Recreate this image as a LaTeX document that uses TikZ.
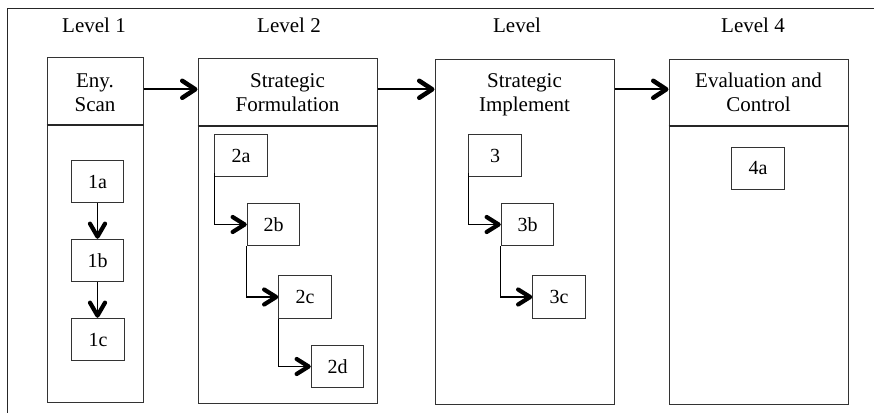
\documentclass[tikz,border=0pt]{standalone}
\usepackage{fontspec}
\setmainfont{Liberation Serif}
\usetikzlibrary{arrows.meta}
\begin{document}
\begin{tikzpicture}[x=1pt,y=-1pt,
  every node/.style={font=\fontsize{21}{24.5}\selectfont},
  big/.style={draw=black!80, line width=1pt, minimum height=345pt, inner sep=0pt},
  sbox/.style={draw=black!80, line width=1pt, minimum width=52.5pt, minimum height=42.5pt, inner sep=0pt, font=\fontsize{20}{24}\selectfont},
  head/.style={align=center, inner sep=0pt},
  divider/.style={draw=black!85, line width=1.1pt},
  mainarrow/.style={line width=2pt, -{Straight Barb[length=13pt,width=17pt,line width=4.5pt,round]}},
  subarrow/.style={line width=1.6pt, -{Straight Barb[length=13pt,width=15pt,line width=4.2pt,round]}},
  elbow/.style={line width=1.4pt, -{Straight Barb[length=12pt,width=15pt,line width=4.2pt,round]}},
]
\useasboundingbox (0,0) rectangle (874,412);
% outer frame (clipped by the page)
\draw[line width=1pt, black!85] (7,430) -- (7,9) -- (890,9);

% level labels
\node[anchor=base] (L1) at (94,33) {Level 1};
\node[anchor=base] (L2) at (289,33) {Level 2};
\node[anchor=base] (L3) at (517,33) {Level};
\node[anchor=base] (L4) at (753,33) {Level 4};

% big boxes
\node[big, minimum width=96pt] (b1) at (95,229.5) {};
\node[big, minimum width=179pt] (b2) at (287.5,230.5) {};
\node[big, minimum width=179pt] (b3) at (524.5,231.5) {};
\node[big, minimum width=179pt] (b4) at (758.5,231.5) {};

% headers
\node[head] (h1) at (95,94.7) {\strut Eny.\\\strut Scan};
\node[head] (h2) at (287.5,94.7) {\strut Strategic\\\strut Formulation};
\node[head] (h3) at (524.5,94.7) {\strut Strategic\\\strut Implement};
\node[head] (h4) at (758.5,94.7) {\strut Evaluation and\\\strut Control};

% dividers
\coordinate (d1) at (95,125);
\coordinate (d2) at (287.5,126);
\coordinate (d4) at (758.5,126);
\draw[divider] (b1.west |- d1) -- (b1.east |- d1);
\draw[divider] (b2.west |- d2) -- (b2.east |- d2);
\draw[divider] (b4.west |- d4) -- (b4.east |- d4);

% arrows between stages
\coordinate (ay) at (0,89.3);
\draw[mainarrow] (b1.east |- ay) -- (b2.west |- ay);
\draw[mainarrow] (b2.east |- ay) -- (b3.west |- ay);
\draw[mainarrow] (b3.east |- ay) -- (b4.west |- ay);

% level 1 sub-boxes
\node[sbox] (n1a) at (97.5,181.7) {1a};
\node[sbox] (n1b) at (97.5,260.5) {1b};
\node[sbox] (n1c) at (98,339.5) {1c};
\draw[subarrow] (n1a.south) -- (n1b.north);
\draw[subarrow] (n1b.south) -- (n1c.north -| n1b.south);

% level 2 sub-boxes
\node[sbox] (n2a) at (241,155.5) {2a};
\node[sbox] (n2b) at (273.5,224.5) {2b};
\node[sbox] (n2c) at (305,297) {2c};
\node[sbox] (n2d) at (337.5,366.5) {2d};
\draw[elbow] ([yshift=4pt]n2a.south west) |- (n2b.west);
\draw[elbow] (n2b.south west) |- (n2c.west);
\draw[elbow] (n2c.south west) |- (n2d.west);

% level 3 sub-boxes
\node[sbox] (n3a) at (495,155.5) {3};
\node[sbox] (n3b) at (527.5,224.5) {3b};
\node[sbox] (n3c) at (559,297) {3c};
\draw[elbow] ([yshift=4pt]n3a.south west) |- (n3b.west);
\draw[elbow] (n3b.south west) |- (n3c.west);

% level 4 sub-box
\node[sbox] (n4a) at (758,168.5) {4a};
\end{tikzpicture}
\end{document}
